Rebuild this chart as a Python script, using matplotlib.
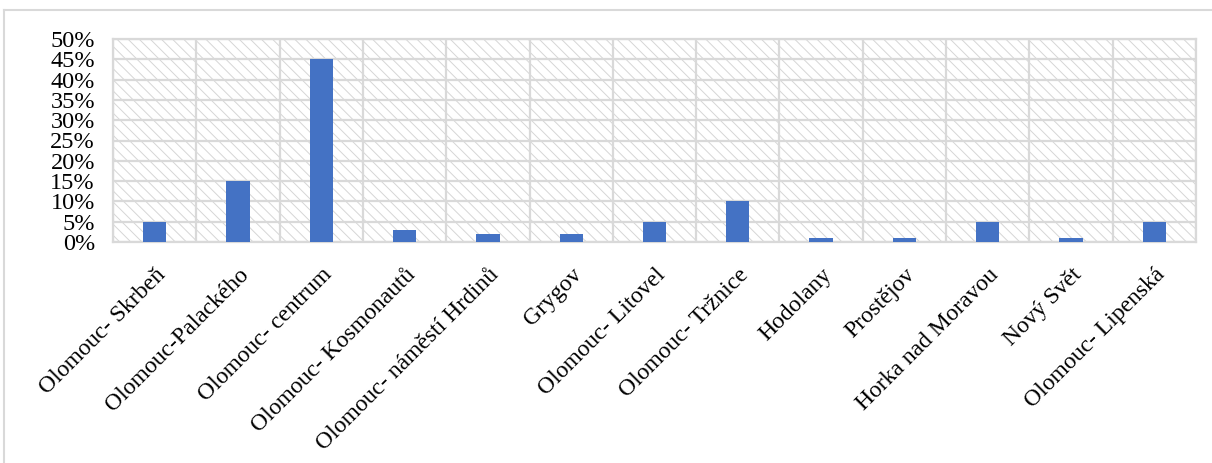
import numpy as np
import matplotlib
matplotlib.use("Agg")
import matplotlib.pyplot as plt
from matplotlib.lines import Line2D
from matplotlib.ticker import PercentFormatter

categories = ["Olomouc- Skrbeň", "Olomouc-Palackého", "Olomouc- centrum",
              "Olomouc- Kosmonautů", "Olomouc- náměstí Hrdinů", "Grygov",
              "Olomouc- Litovel", "Olomouc- Tržnice", "Hodolany", "Prostějov",
              "Horka nad Moravou", "Nový Svět", "Olomouc- Lipenská"]
shares = [0.05, 0.15, 0.45, 0.03, 0.02, 0.02, 0.05, 0.10, 0.01, 0.01, 0.05, 0.01, 0.05]
y_ticks = [0.0, 0.05, 0.10, 0.15, 0.20, 0.25, 0.30, 0.35, 0.40, 0.45, 0.50]

bar_color = "#4472c4"
grid_color = "#d9d9d9"

plt.rcParams['font.family'] = ['Liberation Serif', 'DejaVu Serif']
plt.rcParams['hatch.linewidth'] = 0.7

W, H = 1212, 463
fig = plt.figure(figsize=(W / 100, H / 100), dpi=100)
ax = fig.add_axes([113 / W, 1 - 242 / H, (1196 - 113) / W, (242 - 39) / H])

# hatched plot area
ax.patch.set_facecolor("white")
ax.patch.set_edgecolor("#d6d6d6")
ax.patch.set_hatch("\\\\\\")

x = np.arange(len(categories))
ax.bar(x, shares, width=0.28, color=bar_color, zorder=3)

ax.set_xlim(-0.5, len(categories) - 0.5)
ax.set_ylim(0, 0.5)
ax.set_yticks(y_ticks)
ax.yaxis.set_major_formatter(PercentFormatter(1.0, decimals=0))
ax.set_xticks(x)
ax.set_xticklabels(categories, rotation=45, ha="right", rotation_mode="anchor")
ax.tick_params(axis="both", length=0)
ax.tick_params(axis="x", pad=16, labelsize=17)
ax.tick_params(axis="y", pad=13, labelsize=17.5)

for y in y_ticks:
    ax.axhline(y, color=grid_color, lw=1.6, zorder=2)
for b in np.arange(-0.5, len(categories), 1.0):
    ax.axvline(b, color=grid_color, lw=1.6, zorder=2)
for s in ax.spines.values():
    s.set_color(grid_color)
    s.set_linewidth(1.6)

# partial chart frame
fig.add_artist(Line2D([3.5 / W, 3.5 / W], [0, 1 - 10 / H], color="#d9d9d9", lw=1.5))
fig.add_artist(Line2D([3.5 / W, 1], [1 - 10 / H, 1 - 10 / H], color="#d9d9d9", lw=1.5))

fig.savefig("out.png", dpi=100)
